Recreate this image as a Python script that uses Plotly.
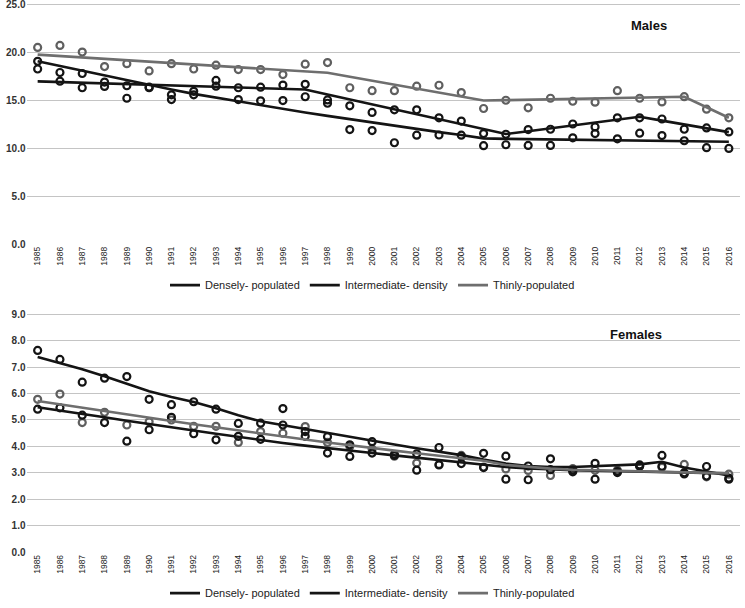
import plotly.graph_objects as go

years = [str(y) for y in range(1985, 2017)]

# ---- Males: observed points ----
m_thin_pts = [20.55, 20.76, 20.07, 18.55, 18.86, 18.1, 18.86, 18.3, 18.7, 18.24, 18.24, 17.72, 18.8, 18.97,
              16.34, 16.03, 16.03, 16.5, 16.6, 15.83, 14.17, 15.03, 14.24, 15.24, 14.93, 14.83, 16.03, 15.24,
              14.86, 15.41, 14.1, 13.2]
m_dense_pts = [19.1, 17.93, 17.83, 16.93, 16.55, 16.4, 15.1, 15.6, 16.5, 15.1, 14.97, 15.0, 15.4, 14.72,
               11.97, 11.86, 10.59, 11.38, 11.4, 11.38, 10.28, 10.38, 10.31, 10.31, 11.1, 11.55, 11.0, 11.59,
               11.34, 10.8, 10.07, 10.0]
m_inter_pts = [18.3, 17.03, 16.34, 16.48, 15.24, 16.34, 15.6, 15.97, 17.1, 16.34, 16.4, 16.62, 16.7, 15.07,
               14.45, 13.76, 14.03, 14.03, 13.2, 12.86, 11.55, 11.48, 11.97, 12.0, 12.55, 12.24, 13.2, 13.2,
               13.07, 12.0, 12.14, 11.72]
# ---- Males: fitted trend lines ----
m_thin_fit = [19.8, 19.65, 19.5, 19.36, 19.21, 19.07, 18.92, 18.78, 18.63, 18.48, 18.34, 18.19, 18.05, 17.9,
              17.49, 17.07, 16.66, 16.24, 15.83, 15.41, 15.0, 15.04, 15.09, 15.13, 15.18, 15.22, 15.27, 15.31,
              15.36, 15.4, 14.3, 13.2]
m_dense_fit = [19.1, 18.6, 18.1, 17.6, 17.1, 16.6, 16.15, 15.7, 15.3, 14.9, 14.5, 14.1, 13.75, 13.4,
               13.05, 12.7, 12.35, 12.0, 11.7, 11.4, 11.05, 11.0, 10.97, 10.94, 10.91, 10.88, 10.85, 10.82,
               10.79, 10.76, 10.73, 10.7]
m_inter_fit = [17.0, 16.93, 16.86, 16.79, 16.72, 16.65, 16.58, 16.51, 16.44, 16.36, 16.29, 16.22, 16.15, 15.63,
               15.12, 14.6, 14.08, 13.57, 13.05, 12.53, 12.02, 11.5, 11.8, 12.1, 12.4, 12.7, 13.0, 13.3,
               12.9, 12.5, 12.1, 11.7]

# ---- Females: observed points ----
f_thin_pts = [5.78, 5.98, 4.9, 5.29, 4.81, 4.93, 5.0, 4.76, 4.76, 4.15, 4.56, 4.5, 4.75, 4.15,
              4.0, 3.9, 3.63, 3.37, 3.32, 3.66, 3.22, 3.15, 3.09, 2.9, 3.16, 3.1, 3.1, 3.26,
              3.21, 3.32, 2.85, 2.95]
f_a_pts = [7.63, 7.29, 6.43, 6.58, 6.64, 5.78, 5.58, 5.69, 5.41, 4.87, 4.88, 5.43, 4.56, 4.37,
           4.06, 4.18, 3.69, 3.72, 3.96, 3.62, 3.74, 3.63, 3.26, 3.53, 3.04, 3.36, 3.01, 3.3,
           3.66, 3.0, 3.24, 2.76]
f_b_pts = [5.41, 5.46, 5.18, 4.9, 4.2, 4.63, 5.1, 4.48, 4.25, 4.38, 4.27, 4.81, 4.38, 3.75,
           3.62, 3.75, 3.66, 3.1, 3.3, 3.35, 3.2, 2.76, 2.74, 3.12, 3.1, 2.76, 3.05, 3.25,
           3.25, 2.96, 2.88, 2.8]
# ---- Females: fitted trend lines ----
f_thin_fit = [5.72, 5.59, 5.46, 5.33, 5.2, 5.08, 4.96, 4.84, 4.72, 4.6, 4.48, 4.37, 4.26, 4.15,
              4.04, 3.94, 3.84, 3.74, 3.64, 3.55, 3.46, 3.3, 3.22, 3.16, 3.12, 3.1, 3.08, 3.06,
              3.04, 3.02, 3.0, 2.98]
f_a_fit = [7.38, 7.15, 6.92, 6.65, 6.37, 6.09, 5.87, 5.68, 5.44, 5.18, 4.95, 4.8, 4.65, 4.5,
           4.36, 4.22, 4.07, 3.93, 3.79, 3.67, 3.5, 3.35, 3.26, 3.22, 3.22, 3.25, 3.28, 3.32,
           3.42, 3.2, 3.05, 2.9]
f_b_fit = [5.48, 5.36, 5.23, 5.1, 4.97, 4.84, 4.72, 4.6, 4.48, 4.36, 4.24, 4.13, 4.03, 3.93,
           3.84, 3.75, 3.66, 3.57, 3.48, 3.39, 3.3, 3.22, 3.17, 3.13, 3.1, 3.08, 3.06, 3.05,
           3.04, 3.02, 3.0, 2.98]

legend_names = ["Densely- populated", "Intermediate- density", "Thinly-populated"]

BLACK = "#141414"
GRAY = "#6e6e6e"
GRAYPT = "#5f5f5f"

fig = go.Figure()

def add_panel(xa, ya, leg, pts, fits, colors, ptcolors):
    for p, c in zip(pts, ptcolors):
        fig.add_trace(go.Scatter(x=years, y=p, mode="markers", xaxis=xa, yaxis=ya,
                                 marker=dict(symbol="circle-open", size=7, color=c, line=dict(width=2.2, color=c)),
                                 showlegend=False, hoverinfo="skip"))
    for f, c, n in zip(fits, colors, legend_names):
        fig.add_trace(go.Scatter(x=years, y=f, mode="lines", xaxis=xa, yaxis=ya, name=n,
                                 line=dict(color=c, width=2.6), legend=leg))

add_panel("x", "y", "legend",
          [m_thin_pts, m_dense_pts, m_inter_pts],
          [m_dense_fit, m_inter_fit, m_thin_fit],
          [BLACK, BLACK, GRAY], [GRAYPT, BLACK, BLACK])
add_panel("x2", "y2", "legend2",
          [f_thin_pts, f_a_pts, f_b_pts],
          [f_b_fit, f_a_fit, f_thin_fit],
          [BLACK, BLACK, GRAY], [GRAYPT, BLACK, BLACK])

H = 608
W = 745
xdom = [26.5 / W, 740 / W]
xcommon = dict(type="category", range=[-0.5, 31.5], domain=xdom, showgrid=False, showline=False,
               zeroline=False, tickangle=-90, ticks="", automargin=False,
               tickfont=dict(family="Liberation Sans Narrow, Liberation Sans, Arial", size=8.5, color="#222"))
ycommon = dict(showgrid=True, gridcolor="#c4c4c4", gridwidth=1, zeroline=False, showline=False,
               tickformat=".1f", ticks="", automargin=False, tickmode="linear", tick0=0,
               ticklabeloverflow="allow",
               tickfont=dict(family="Liberation Sans, Arial", size=10, color="#333", weight="bold"))

legfont = dict(family="Liberation Sans Narrow, Liberation Sans, Arial", size=11, color="#222")

fig.update_layout(
    width=W, height=H, margin=dict(l=0, r=0, t=0, b=0),
    paper_bgcolor="white", plot_bgcolor="white",
    xaxis=dict(xcommon, anchor="y"),
    yaxis=dict(ycommon, anchor="x", domain=[1 - 246.5 / H, 1 - 3 / H], range=[0, 25.2], dtick=5),
    xaxis2=dict(xcommon, anchor="y2"),
    yaxis2=dict(ycommon, anchor="x2", domain=[1 - 557.7 / H, 1 - 316 / H], range=[0, 9.05], dtick=1),
    legend=dict(orientation="h", x=0.5, xanchor="center", y=1 - 288 / H, yanchor="middle",
                font=legfont, bgcolor="rgba(0,0,0,0)"),
    legend2=dict(orientation="h", x=0.5, xanchor="center", y=1 - 599 / H, yanchor="middle",
                 font=legfont, bgcolor="rgba(0,0,0,0)"),
    annotations=[
        dict(text="<b>Males</b>", x=649 / W, y=1 - 26 / H, xref="paper", yref="paper",
             xanchor="center", yanchor="middle",
             showarrow=False, font=dict(family="Liberation Sans, Arial", size=13, color="#111")),
        dict(text="<b>Females</b>", x=636 / W, y=1 - 338 / H, xref="paper", yref="paper",
             xanchor="center", yanchor="middle",
             showarrow=False, font=dict(family="Liberation Sans, Arial", size=13, color="#111")),
    ],
)

fig.write_html("out.html", config={"displayModeBar": False},
               post_script="document.body.style.margin='0';document.body.style.overflow='hidden';")
